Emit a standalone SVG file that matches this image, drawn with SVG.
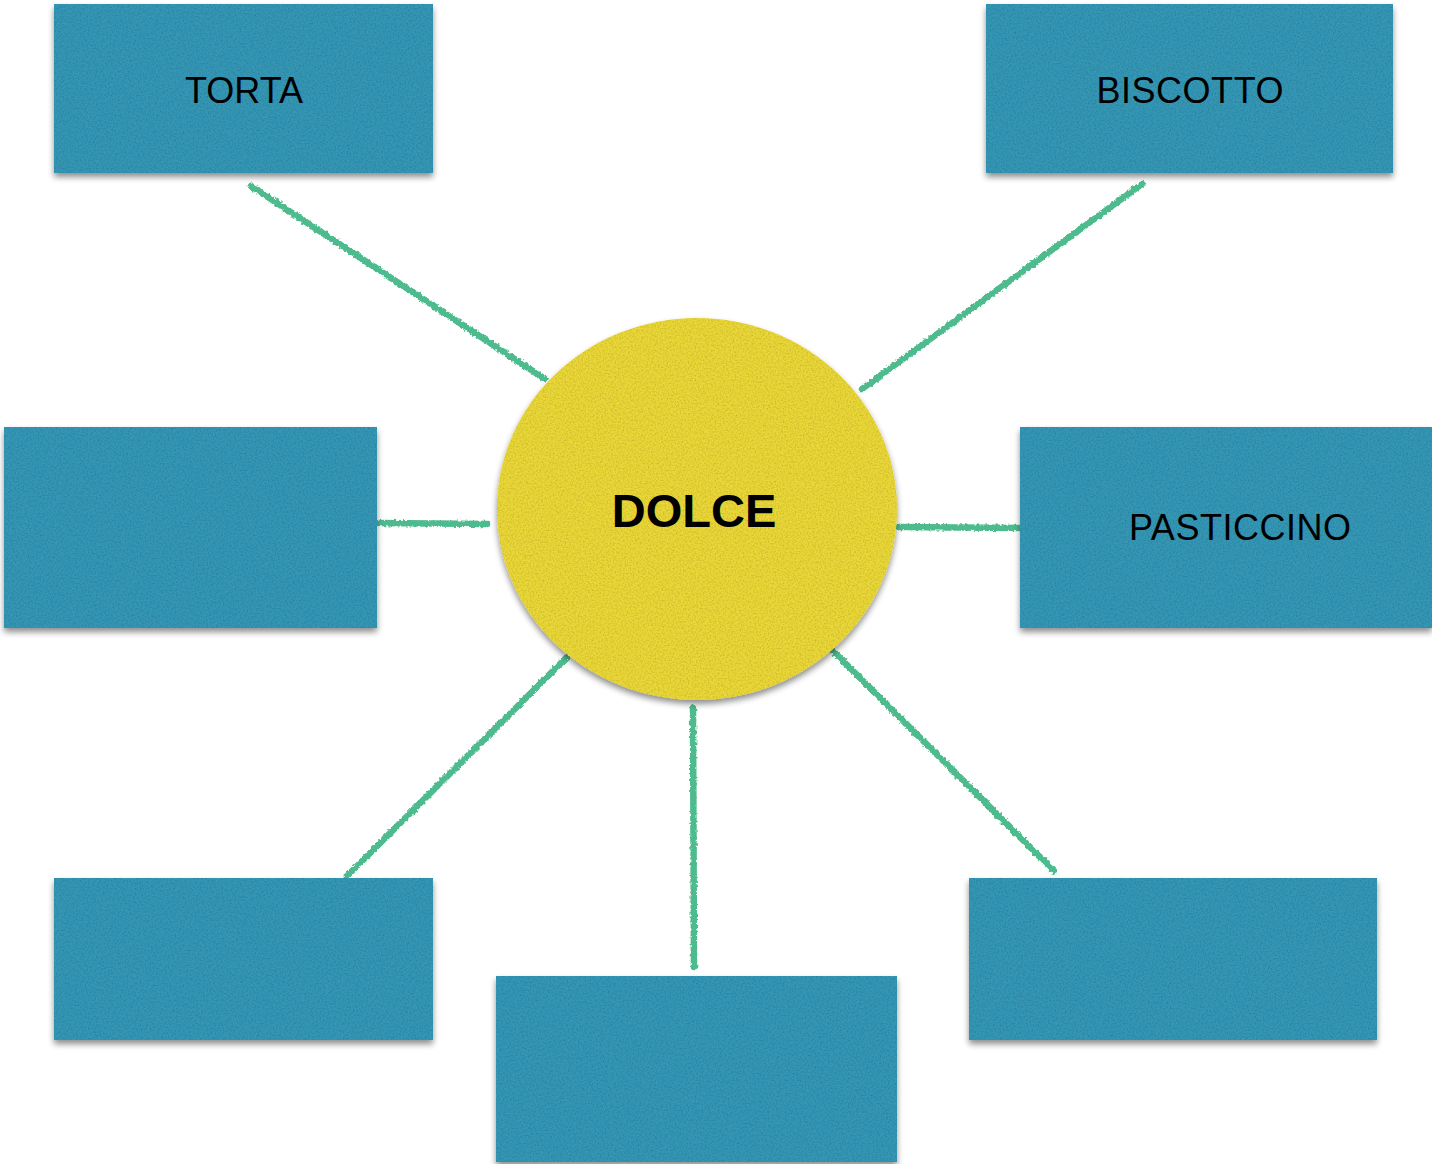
<svg xmlns="http://www.w3.org/2000/svg" width="1432" height="1164" viewBox="0 0 1432 1164">
<defs>
<filter id="tex" x="-5%" y="-5%" width="110%" height="115%">
<feTurbulence type="fractalNoise" baseFrequency="0.6" numOctaves="2" seed="3" result="n"/>
<feColorMatrix in="n" type="matrix" values="0 0 0 0 0  0 0 0 0 0  0 0 0 0 0  0 0 0 -0.6 0.36" result="dark"/>
<feComposite in="dark" in2="SourceGraphic" operator="in" result="grain"/>
<feGaussianBlur in="SourceAlpha" stdDeviation="3" result="b"/>
<feOffset in="b" dx="0" dy="4" result="ob"/>
<feComponentTransfer in="ob" result="sh"><feFuncA type="linear" slope="0.45"/></feComponentTransfer>
<feMerge><feMergeNode in="sh"/><feMergeNode in="SourceGraphic"/><feMergeNode in="grain"/></feMerge>
</filter>
<filter id="rough" x="-10%" y="-10%" width="120%" height="120%">
<feTurbulence type="fractalNoise" baseFrequency="0.35" numOctaves="2" seed="7" result="t"/>
<feDisplacementMap in="SourceGraphic" in2="t" scale="4" xChannelSelector="R" yChannelSelector="G"/>
</filter>
</defs>
<style>
.box{fill:#3597b5}
.circ{fill:#ead738}
.lbl{font-family:"Liberation Sans",Arial,sans-serif;font-size:36px;fill:#000;text-anchor:middle}
.big{font-family:"Liberation Sans",Arial,sans-serif;font-size:47px;font-weight:bold;fill:#000;text-anchor:middle}
.con{stroke:#4dbb8e;stroke-width:6.5;fill:none;stroke-linecap:round}
</style>
<rect width="1432" height="1164" fill="#fff"/>
<g id="connectors" filter="url(#rough)">
<line class="con" x1="251" y1="186" x2="545" y2="379"/>
<line class="con" x1="1142" y1="184" x2="862" y2="389"/>
<line class="con" x1="379" y1="523" x2="487" y2="524"/>
<line class="con" x1="899" y1="527" x2="1020" y2="528"/>
<line class="con" x1="566" y1="658" x2="347" y2="876"/>
<line class="con" x1="693" y1="708" x2="694" y2="967"/>
<line class="con" x1="833" y1="651" x2="1054" y2="871"/>
</g>
<g id="center">
<ellipse class="circ" cx="697" cy="509" rx="200" ry="191" filter="url(#tex)"/>
<text class="big" x="694" y="527">DOLCE</text>
</g>
<g id="torta">
<rect class="box" x="54" y="4" width="379" height="169" filter="url(#tex)"/>
<text class="lbl" x="244" y="103">TORTA</text>
</g>
<g id="biscotto">
<rect class="box" x="986" y="4" width="407" height="169" filter="url(#tex)"/>
<text class="lbl" x="1190" y="103" textLength="187">BISCOTTO</text>
</g>
<g id="left">
<rect class="box" x="4" y="427" width="373" height="201" filter="url(#tex)"/>
</g>
<g id="pasticcino">
<rect class="box" x="1020" y="427" width="412" height="201" filter="url(#tex)"/>
<text class="lbl" x="1240" y="540" textLength="222">PASTICCINO</text>
</g>
<g id="bottom-left">
<rect class="box" x="54" y="878" width="379" height="162" filter="url(#tex)"/>
</g>
<g id="bottom-center">
<rect class="box" x="496" y="976" width="401" height="186" filter="url(#tex)"/>
</g>
<g id="bottom-right">
<rect class="box" x="969" y="878" width="408" height="162" filter="url(#tex)"/>
</g>
</svg>
